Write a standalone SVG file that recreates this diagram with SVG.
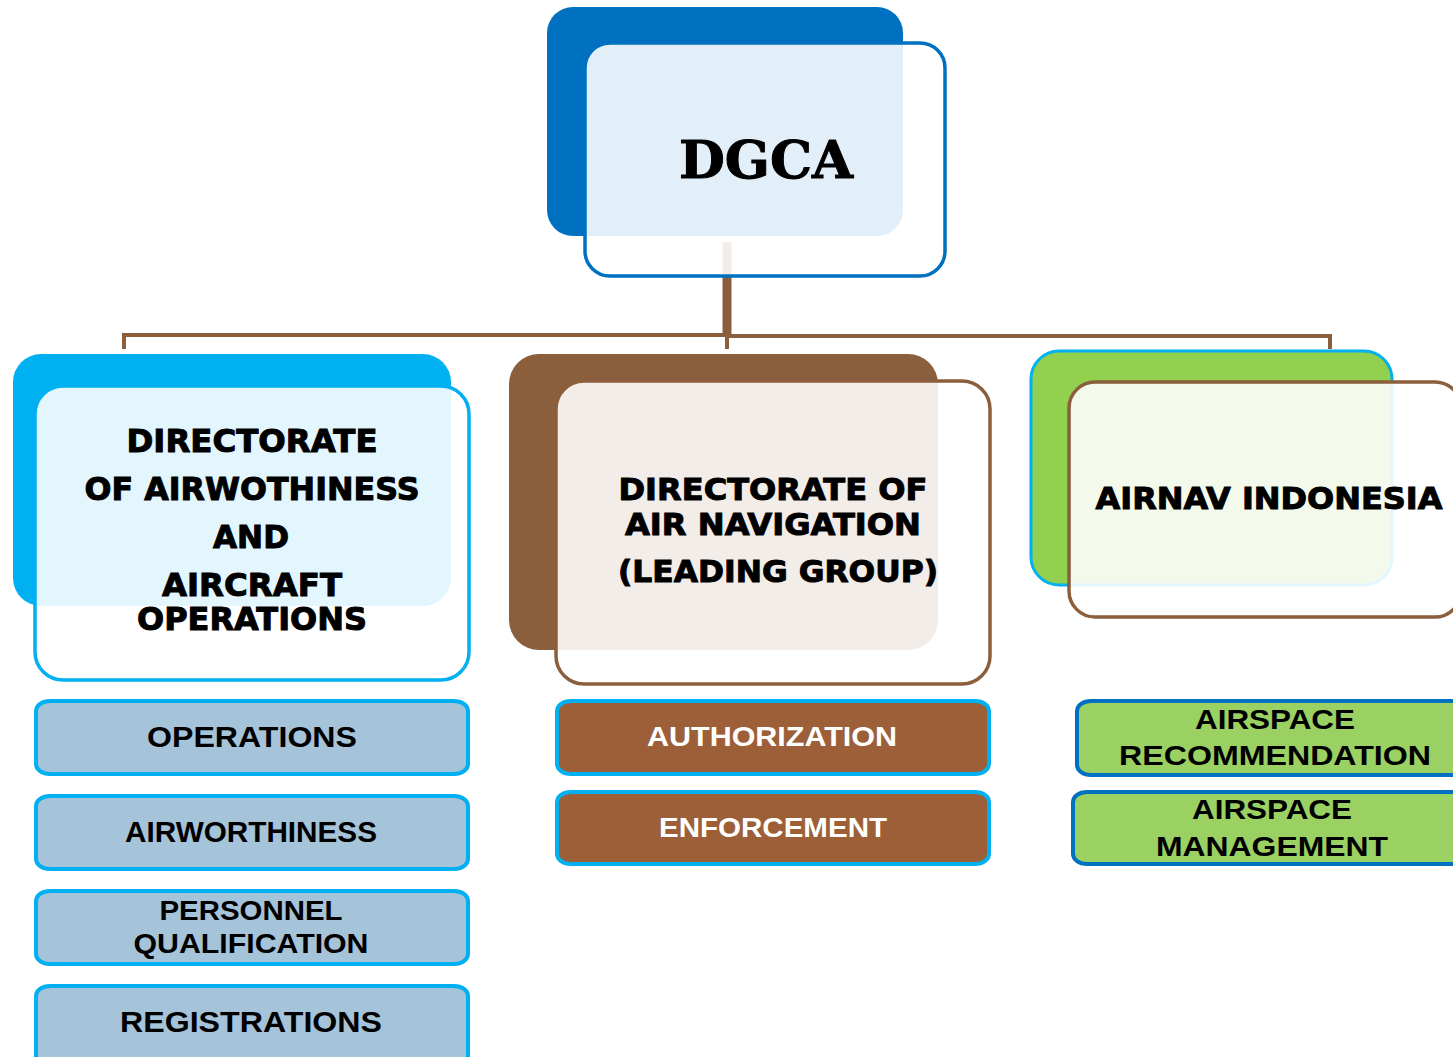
<svg xmlns="http://www.w3.org/2000/svg" width="1453" height="1057" viewBox="0 0 1453 1057">
<style>
.front{fill:#ffffff;fill-opacity:0.89;stroke-width:3.5}
.head{font-family:"DejaVu Sans",sans-serif;font-weight:bold;fill:#000;stroke:#000;stroke-width:1;text-anchor:middle}
.sub{font-family:"Liberation Sans",Arial,sans-serif;font-weight:bold;text-anchor:middle}
.conn{stroke:#8B5E3C;fill:none}
.blue{fill:#A5C3D9;stroke:#00B0F0;stroke-width:4}
.brown{fill:#9C5F38;stroke:#00B0F0;stroke-width:4}
.green{fill:#9BD162;stroke:#0070C0;stroke-width:4}
</style>
<rect width="1453" height="1057" fill="#ffffff"/>
<g id="connectors">
<line class="conn" x1="727" y1="242" x2="727" y2="336" stroke-width="9"/>
<line class="conn" x1="727" y1="334" x2="727" y2="349" stroke-width="4"/>
<polyline class="conn" points="124,349 124,335 727,335" stroke-width="4"/>
<polyline class="conn" points="727,336 1330,336 1330,349" stroke-width="4"/>
</g>
<g id="dgca">
<rect x="547" y="7" width="356" height="229" rx="26" fill="#0070C0"/>
<rect class="front" x="585" y="43" width="360" height="233" rx="25" stroke="#0070C0"/>
<text x="766" y="178" font-family="'DejaVu Serif',serif" font-weight="bold" font-size="52" text-anchor="middle" fill="#000" stroke="#000" stroke-width="1" textLength="174" lengthAdjust="spacingAndGlyphs">DGCA</text>
</g>
<g id="dir-airworthiness">
<rect x="13" y="354" width="438" height="252" rx="28" fill="#00B0F0"/>
<rect class="front" x="35" y="386" width="434" height="294" rx="28" stroke="#00B0F0"/>
<text class="head" font-size="32"><tspan x="252" y="452" textLength="251" lengthAdjust="spacingAndGlyphs">DIRECTORATE</tspan><tspan x="252" y="500" textLength="335" lengthAdjust="spacingAndGlyphs">OF AIRWOTHINESS</tspan><tspan x="251" y="548" textLength="76" lengthAdjust="spacingAndGlyphs">AND</tspan><tspan x="252" y="596" textLength="180" lengthAdjust="spacingAndGlyphs">AIRCRAFT</tspan><tspan x="252" y="630" textLength="230" lengthAdjust="spacingAndGlyphs">OPERATIONS</tspan></text>
</g>
<g id="dir-airnav">
<rect x="509" y="354" width="429" height="296" rx="30" fill="#8B5E3C"/>
<rect class="front" x="556" y="381" width="434" height="303" rx="28" stroke="#8B5E3C"/>
<text class="head" font-size="31"><tspan x="773" y="500" textLength="309" lengthAdjust="spacingAndGlyphs">DIRECTORATE OF</tspan><tspan x="773" y="535" textLength="296" lengthAdjust="spacingAndGlyphs">AIR NAVIGATION</tspan><tspan x="778" y="582" textLength="320" lengthAdjust="spacingAndGlyphs">(LEADING GROUP)</tspan></text>
</g>
<g id="airnav-indonesia">
<rect x="1031" y="351" width="361" height="234" rx="28" fill="#92D050" stroke="#00B0F0" stroke-width="3"/>
<rect class="front" x="1069" y="382" width="392" height="235" rx="26" stroke="#8B5E3C"/>
<text class="head" font-size="31" x="1269" y="509" textLength="347" lengthAdjust="spacingAndGlyphs">AIRNAV INDONESIA</text>
</g>
<g id="operations">
<rect class="blue" x="36" y="701" width="432" height="73" rx="14" ry="10"/>
<text class="sub" x="252" y="747" font-size="29" fill="#000" textLength="210" lengthAdjust="spacingAndGlyphs">OPERATIONS</text>
</g>
<g id="airworthiness">
<rect class="blue" x="36" y="796" width="432" height="73" rx="14" ry="10"/>
<text class="sub" x="251" y="842" font-size="29" fill="#000" textLength="252" lengthAdjust="spacingAndGlyphs">AIRWORTHINESS</text>
</g>
<g id="personnel">
<rect class="blue" x="36" y="891" width="432" height="73" rx="14" ry="10"/>
<text class="sub" font-size="27" fill="#000"><tspan x="251" y="920" textLength="183" lengthAdjust="spacingAndGlyphs">PERSONNEL</tspan><tspan x="251" y="953" textLength="235" lengthAdjust="spacingAndGlyphs">QUALIFICATION</tspan></text>
</g>
<g id="registrations">
<rect class="blue" x="36" y="986" width="432" height="80" rx="14" ry="10"/>
<text class="sub" x="251" y="1032" font-size="29" fill="#000" textLength="262" lengthAdjust="spacingAndGlyphs">REGISTRATIONS</text>
</g>
<g id="authorization">
<rect class="brown" x="557" y="701" width="432" height="73" rx="14" ry="10"/>
<text class="sub" x="772" y="746" font-size="28" fill="#ffffff" textLength="250" lengthAdjust="spacingAndGlyphs">AUTHORIZATION</text>
</g>
<g id="enforcement">
<rect class="brown" x="557" y="792" width="432" height="72" rx="14" ry="10"/>
<text class="sub" x="773" y="837" font-size="28" fill="#ffffff" textLength="228" lengthAdjust="spacingAndGlyphs">ENFORCEMENT</text>
</g>
<g id="airspace-recommendation">
<rect class="green" x="1077" y="701" width="400" height="74" rx="14" ry="10"/>
<text class="sub" font-size="28" fill="#000"><tspan x="1275" y="729" textLength="160" lengthAdjust="spacingAndGlyphs">AIRSPACE</tspan><tspan x="1275" y="765" textLength="312" lengthAdjust="spacingAndGlyphs">RECOMMENDATION</tspan></text>
</g>
<g id="airspace-management">
<rect class="green" x="1073" y="792" width="404" height="72" rx="14" ry="10"/>
<text class="sub" font-size="28" fill="#000"><tspan x="1272" y="819" textLength="160" lengthAdjust="spacingAndGlyphs">AIRSPACE</tspan><tspan x="1272" y="856" textLength="232" lengthAdjust="spacingAndGlyphs">MANAGEMENT</tspan></text>
</g>
</svg>
